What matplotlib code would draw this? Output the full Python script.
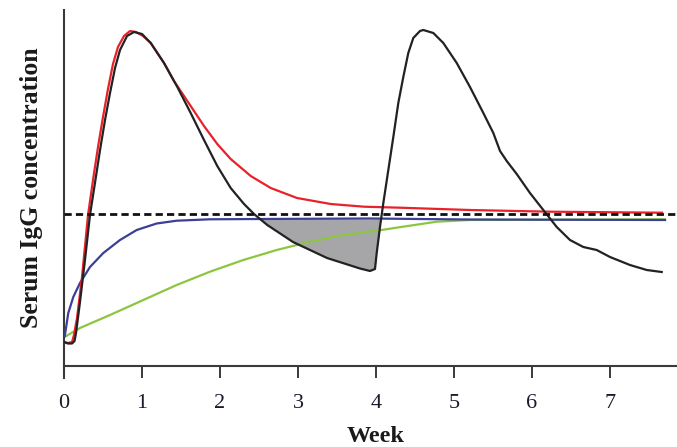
import matplotlib
matplotlib.use("Agg")
import matplotlib.pyplot as plt
import numpy as np

# Serum IgG concentration (arbitrary units) versus time in weeks
red_week = [0.0, 0.051, 0.103, 0.128, 0.167, 0.231, 0.308, 0.372, 0.436, 0.5, 0.564, 0.628,
            0.692, 0.769, 0.846, 0.923, 1.013, 1.112, 1.282, 1.41, 1.624, 1.795, 1.965,
            2.137, 2.394, 2.65, 2.987, 3.419, 3.846, 4.308, 5.205, 6.231, 7.667]
red_conc = [24, 23, 24, 31, 48, 89, 151, 186, 219, 249, 277, 302,
            319, 330, 335, 334, 330, 323, 303, 285, 260, 240, 222,
            207, 190, 178, 168, 162, 159.3, 158.3, 156, 154.3, 153.3]

black_week = [0.0, 0.051, 0.103, 0.135, 0.154, 0.205, 0.269, 0.333, 0.397, 0.462, 0.526,
              0.590, 0.654, 0.718, 0.808, 0.897, 1.0, 1.112, 1.282, 1.453, 1.624, 1.795,
              1.965, 2.137, 2.308, 2.436, 2.606, 2.936, 3.372, 3.795, 3.923, 3.987, 4.009,
              4.051, 4.094, 4.158, 4.222, 4.286, 4.350, 4.414, 4.478, 4.564, 4.606, 4.735,
              4.863, 5.035, 5.205, 5.376, 5.504, 5.590, 5.676, 5.804, 5.974, 6.145, 6.317,
              6.487, 6.658, 6.829, 7.0, 7.256, 7.471, 7.663]
black_conc = [24, 22.5, 22.5, 25, 33, 64, 106, 151, 183, 216, 246,
              273, 298, 316, 330, 334, 332, 323, 303, 279, 253, 226,
              200, 178, 162, 152, 141, 124, 108, 97.5, 95, 97, 113,
              139, 163, 196, 229, 263, 289, 313, 328, 335, 336, 333,
              323, 303, 279, 253, 233, 215, 205, 192, 173, 156, 139,
              126, 119, 116, 109, 101, 96, 94]

blue_week = [0.01, 0.055, 0.119, 0.205, 0.333, 0.504, 0.718, 0.932, 1.188, 1.445, 1.872,
             2.513, 3.923, 5.205, 7.705]
blue_conc = [30, 53, 69, 83, 99, 113, 126, 136, 142.5, 145.3, 146.7,
             147, 147.5, 146.5, 146]

green_week = [0.013, 0.205, 0.59, 1.017, 1.445, 1.872, 2.299, 2.727, 3.154, 3.581, 4.009,
              4.346, 4.778, 5.205, 7.705]
green_conc = [29.3, 38, 51, 66, 81, 94.3, 106, 116, 124.3, 131, 135.3,
              139.3, 144.3, 146, 146.7]

threshold = 152          # dashed reference level
plateau = 147            # blue steady-state level bounding the shaded deficit

x_ticks = [0, 1, 2, 3, 4, 5, 6, 7]
x_max = 613 / 78

fig = plt.figure(figsize=(6.77, 4.47), dpi=100)
ax = fig.add_axes([64/677, 81/447, 613/677, 356/447])

bw = np.array(black_week)
bc = np.array(black_conc)
mask = (bw > 2.2) & (bw < 4.2)
ax.fill_between(bw[mask], bc[mask], plateau, where=bc[mask] < plateau,
                interpolate=True, color="#a6a6a9", lw=0, zorder=1)

ax.plot(green_week, green_conc, color="#8cc63f", lw=1.6, zorder=2)
ax.plot(blue_week, blue_conc, color="#3b3f98", lw=1.6, zorder=3)
ax.plot(red_week, red_conc, color="#e8212b", lw=1.6, zorder=4,
        solid_joinstyle="round")
ax.plot(black_week, black_conc, color="#222222", lw=1.6, zorder=5,
        solid_joinstyle="round")
ax.axhline(threshold, color="#111111", lw=2.0, dashes=(2.6, 1.5), zorder=6)

ax.set_xlim(0, x_max)
ax.set_ylim(0, 356)
ax.set_xticks(x_ticks)
ax.set_xticklabels([str(t) for t in x_ticks])
ax.set_yticks([])

for s in ["top", "right"]:
    ax.spines[s].set_visible(False)
for s in ["left", "bottom"]:
    ax.spines[s].set_color("#3a3a3a")
    ax.spines[s].set_linewidth(1.5)
ax.spines["left"].set_bounds(-12, 356)
ax.spines["left"].set_clip_on(False)
ax.tick_params(axis="x", direction="out", length=8.5, width=1.4, color="#3a3a3a",
               pad=12, labelsize=16, labelcolor="#1a1a2a",
               labelfontfamily="Liberation Serif")

ax.set_xlabel("Week", family="Liberation Serif", fontweight="bold", fontsize=17.5,
              color="#1a1a1a", va="center")
ax.xaxis.set_label_coords(4 / x_max, -0.197)
ax.set_ylabel("Serum IgG concentration", family="Liberation Serif", fontweight="bold",
              fontsize=18.5, color="#1a1a1a", labelpad=15)

fig.savefig("out.png", dpi=100)
